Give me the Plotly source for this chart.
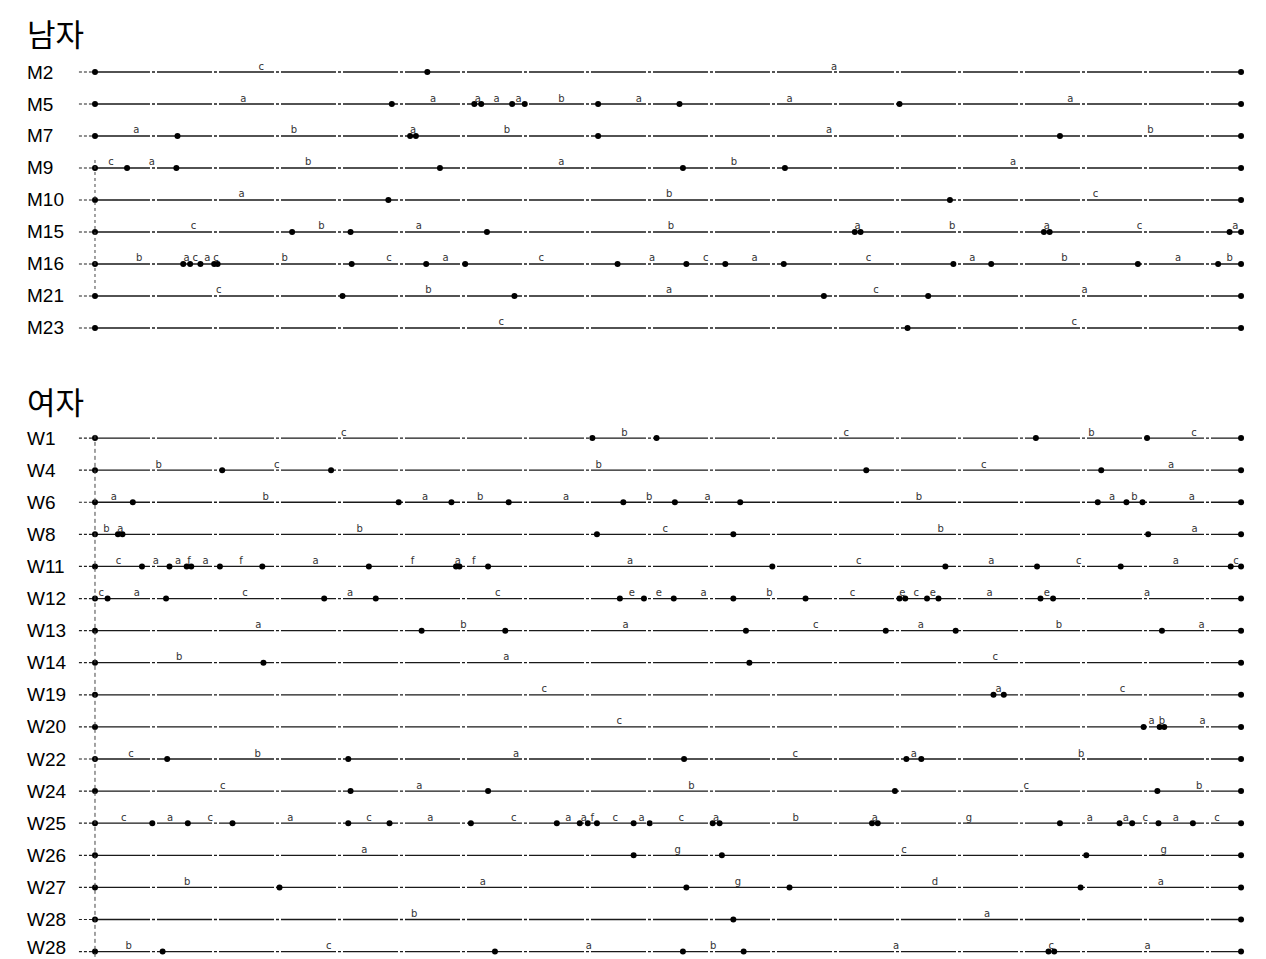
import plotly.graph_objects as go

# ---------------- data (time scale 0-100 per participant) ----------------
MALE_IDS = ["M2", "M5", "M7", "M9", "M10", "M15", "M16", "M21", "M23"]
MALE_BREAKS = [
    [0, 29.0, 100],
    [0, 25.9, 33.1, 33.7, 36.4, 37.5, 43.9, 51.0, 70.2, 100],
    [0, 7.2, 27.5, 28.0, 43.9, 84.2, 100],
    [0, 2.8, 7.1, 30.1, 51.3, 60.2, 100],
    [0, 25.6, 74.6, 100],
    [0, 17.2, 22.3, 34.2, 66.3, 66.8, 82.8, 83.3, 99.0, 100],
    [0, 7.7, 8.3, 9.2, 10.4, 10.7, 22.4, 28.9, 32.3, 45.6, 51.6, 55.0, 60.1, 74.9, 78.2, 91.0, 98.0, 100],
    [0, 21.6, 36.6, 63.6, 72.7, 100],
    [0, 70.9, 100],
]
MALE_CODES = [
    ["c", "a"],
    ["a", "a", "a", "a", "a", "b", "a", "a", "a"],
    ["a", "b", "a", "b", "a", "b"],
    ["c", "a", "b", "a", "b", "a"],
    ["a", "b", "c"],
    ["c", "b", "a", "b", "a", "b", "a", "c", "a"],
    ["b", "a", "c", "a", "c", "b", "c", "a", "c", "a", "c", "a", "c", "a", "b", "a", "b"],
    ["c", "b", "a", "c", "a"],
    ["c", "c"],
]

FEMALE_IDS = ["W1", "W4", "W6", "W8", "W11", "W12", "W13", "W14", "W19", "W20",
              "W22", "W24", "W25", "W26", "W27", "W28", "W28"]
FEMALE_BREAKS = [
    [0, 43.4, 49.0, 82.1, 91.8, 100],
    [0, 11.1, 20.6, 67.3, 87.8, 100],
    [0, 3.3, 26.5, 31.1, 36.1, 46.1, 50.6, 56.3, 87.5, 90.0, 91.4, 100],
    [0, 2.0, 2.4, 43.8, 55.7, 91.9, 100],
    [0, 4.1, 6.5, 8.0, 8.4, 10.9, 14.6, 23.9, 31.5, 31.8, 34.3, 59.1, 74.2, 82.2, 89.5, 99.1, 100],
    [0, 1.1, 6.2, 20.0, 24.5, 45.8, 47.9, 50.5, 55.7, 62.0, 70.2, 70.7, 72.6, 73.6, 82.5, 83.6, 100],
    [0, 28.5, 35.8, 56.8, 69.0, 75.1, 93.1, 100],
    [0, 14.7, 57.1, 100],
    [0, 78.4, 79.3, 100],
    [0, 91.5, 92.9, 93.3, 100],
    [0, 6.3, 22.1, 51.4, 70.8, 72.1, 100],
    [0, 22.3, 34.3, 69.8, 92.7, 100],
    [0, 5.0, 8.1, 12.0, 22.1, 25.7, 32.8, 40.3, 42.3, 43.0, 43.8, 47.0, 48.4, 53.9, 54.5,
     67.8, 68.3, 84.2, 89.4, 90.5, 92.8, 95.8, 100],
    [0, 47.0, 54.7, 86.5, 100],
    [0, 16.1, 51.6, 60.6, 86.0, 100],
    [0, 55.7, 100],
    [0, 5.9, 34.9, 51.3, 56.6, 83.2, 83.7, 100],
]
FEMALE_CODES = [
    ["c", "b", "c", "b", "c"],
    ["b", "c", "b", "c", "a"],
    ["a", "b", "a", "b", "a", "b", "a", "b", "a", "b", "a"],
    ["b", "a", "b", "c", "b", "a"],
    ["c", "a", "a", "f", "a", "f", "a", "f", "a", "f", "a", "c", "a", "c", "a", "c"],
    ["c", "a", "c", "a", "c", "e", "e", "a", "b", "c", "e", "c", "e", "a", "e", "a"],
    ["a", "b", "a", "c", "a", "b", "a"],
    ["b", "a", "c"],
    ["c", "a", "c"],
    ["c", "a", "b", "a"],
    ["c", "b", "a", "c", "a", "b"],
    ["c", "a", "b", "c", "b"],
    ["c", "a", "c", "a", "c", "a", "c", "a", "a", "f", "c", "a", "c", "a", "b", "a", "g",
     "a", "a", "c", "a", "c"],
    ["a", "g", "c", "g"],
    ["b", "a", "g", "d", "a"],
    ["b", "a"],
    ["b", "c", "a", "b", "a", "c", "a"],
]

SECTION_TITLES = ["남자", "여자"]

# ---------------- layout helpers ----------------
# page body has an 8 px margin; the figure is shifted by it
W, H = 1250, 951
X_RANGE = [-7.59, 101.48]
Y_RANGE = [27.72, -2.0]         # reversed: row units (32 px each)
FEMALE_OFFSET = 11.44
FEMALE_STEP = 1.003
LEAD = -1.4

rows = []
for i, (n, b, c) in enumerate(zip(MALE_IDS, MALE_BREAKS, MALE_CODES)):
    rows.append((n, float(i), b, c, "m"))
for j, (n, b, c) in enumerate(zip(FEMALE_IDS, FEMALE_BREAKS, FEMALE_CODES)):
    rows.append((n, FEMALE_OFFSET + j * FEMALE_STEP, b, c, "f"))

line_x, line_y = [], []
lead_x, lead_y = [], []
dot_x, dot_y = [], []
txt_x, txt_y, txt = [], [], []
for name, yv, brk, codes, sex in rows:
    line_x += [brk[0], brk[-1], None]
    line_y += [yv, yv, None]
    lead_x += [LEAD, brk[0], None]
    lead_y += [yv, yv, None]
    dot_x += brk
    dot_y += [yv] * len(brk)
    for k, code in enumerate(codes):
        txt_x.append((brk[k] + brk[k + 1]) / 2)
        txt_y.append(yv)
        txt.append(code)

fig = go.Figure()
fig.add_trace(go.Scatter(x=lead_x, y=lead_y, mode="lines",
                         line=dict(color="#222", width=1.2, dash="3px,2px"),
                         hoverinfo="skip", showlegend=False))
fig.add_trace(go.Scatter(x=line_x, y=line_y, mode="lines",
                         line=dict(color="#1a1a1a", width=1.3, dash="55px,2px,3px,2px"),
                         hoverinfo="skip", showlegend=False))
fig.add_trace(go.Scatter(x=dot_x, y=dot_y, mode="markers", cliponaxis=False,
                         marker=dict(color="black", size=6),
                         hoverinfo="skip", showlegend=False))
fig.add_trace(go.Scatter(x=txt_x, y=txt_y, mode="text", text=txt, cliponaxis=False,
                         textposition="top center",
                         textfont=dict(family="DejaVu Sans", size=10, color="#333"),
                         hoverinfo="skip", showlegend=False))

# vertical dotted guides at time 0
male_rows = [r for r in rows if r[4] == "m"]
fem_rows = [r for r in rows if r[4] == "f"]
fig.add_shape(type="line", x0=0, x1=0, y0=male_rows[3][1] - 0.25, y1=male_rows[7][1] - 0.15,
              line=dict(color="#444", width=1, dash="3px,3px"))
fig.add_shape(type="line", x0=0, x1=0, y0=fem_rows[0][1] - 0.1, y1=Y_RANGE[0],
              line=dict(color="#444", width=1, dash="4px,3px"))

LABEL_X = 17 / W
annotations = []
for idx, (name, yv, brk, codes, sex) in enumerate(rows):
    annotations.append(dict(x=LABEL_X, xref="paper", y=yv, yref="y", text=name,
                            showarrow=False, xanchor="left", yanchor="middle",
                            yshift=4 if idx == len(rows) - 1 else 0,
                            font=dict(family="Liberation Sans, Arial", size=19, color="black")))
annotations.append(dict(x=LABEL_X, xref="paper", y=1 - 25 / H, yref="paper", text=SECTION_TITLES[0],
                        showarrow=False, xanchor="left", yanchor="middle",
                        font=dict(family="Noto Sans CJK KR", size=31, color="black")))
annotations.append(dict(x=LABEL_X, xref="paper", y=1 - 392 / H, yref="paper", text=SECTION_TITLES[1],
                        showarrow=False, xanchor="left", yanchor="middle",
                        font=dict(family="Noto Sans CJK KR", size=31, color="black")))

fig.update_layout(
    width=W, height=H,
    margin=dict(l=0, r=0, t=0, b=0),
    paper_bgcolor="white", plot_bgcolor="white",
    xaxis=dict(range=X_RANGE, visible=False, showgrid=False, zeroline=False, fixedrange=True),
    yaxis=dict(range=Y_RANGE, visible=False, showgrid=False, zeroline=False, fixedrange=True),
    annotations=annotations,
    showlegend=False,
)

fig.write_html("out.html")
